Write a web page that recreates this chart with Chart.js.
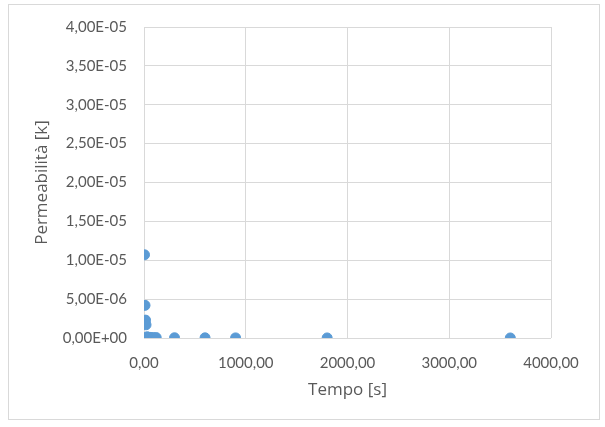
<!DOCTYPE html>
<html>
<head>
<meta charset="utf-8">
<script src="https://cdn.jsdelivr.net/npm/chart.js@4"></script>
<style>
  html, body { margin: 0; padding: 0; background: #fff; }
  #wrap { position: relative; width: 605px; height: 427px; }
  #frame { position: absolute; left: 8px; top: 4px; width: 592px; height: 416px; border: 1px solid #d9d9d9; box-sizing: border-box; pointer-events: none; }
  canvas { position: absolute; left: 0; top: 0; }
</style>
</head>
<body>
<div id="wrap">
  <canvas id="chart" width="605" height="427"></canvas>
  <div id="frame"></div>
</div>
<script>
// tempo [s] vs permeabilità [k]
const tempo = [5, 10, 15, 20, 30, 45, 60, 90, 120, 300, 600, 900, 1800, 3600];
const permeabilita = [1.07e-5, 4.2e-6, 2.3e-6, 1.7e-6, 1.5e-7, 1.0e-7, 8e-8, 6e-8, 5e-8, 3e-8, 2e-8, 1.5e-8, 1e-8, 5e-9];

const xMax = 4000, xStep = 1000;
const yMax = 4e-5, yStep = 5e-6;

const points = tempo.map((t, i) => ({ x: t, y: permeabilita[i] }));

const tickFont = 'Lato, "Open Sans", sans-serif';
const titleFont = '"Open Sans", Lato, sans-serif';
const grey = '#595959';

function fmtExp(v) {
  // 4.00e-5 -> 4,00E-05
  let s = Number(v).toExponential(2);
  let [m, e] = s.split('e');
  let sign = e[0] === '-' ? '-' : '+';
  let n = Math.abs(parseInt(e, 10));
  return m.replace('.', ',') + 'E' + sign + (n < 10 ? '0' + n : n);
}

new Chart(document.getElementById('chart'), {
  type: 'scatter',
  data: {
    datasets: [{
      data: points,
      backgroundColor: '#5b9bd5',
      borderColor: '#5b9bd5',
      pointRadius: 5,
      borderWidth: 1
    }]
  },
  options: {
    responsive: false,
    animation: false,
    layout: { padding: { left: 0, top: 27, right: 54, bottom: 0 } },
    plugins: { legend: { display: false }, tooltip: { enabled: false } },
    scales: {
      x: {
        type: 'linear',
        min: 0, max: xMax,
        grid: { color: '#d9d9d9', drawTicks: false },
        border: { display: false },
        ticks: {
          stepSize: xStep, padding: 16, color: grey,
          font: { family: tickFont, size: 15 },
          callback: v => v.toFixed(2).replace('.', ',')
        },
        title: {
          display: true, text: 'Tempo [s]', color: grey,
          font: { family: titleFont, size: 17 },
          padding: { top: 0, bottom: 27 }
        },
        afterFit: s => { s.height = 89; }
      },
      y: {
        min: 0, max: yMax,
        grid: { color: '#d9d9d9', drawTicks: false },
        border: { display: false },
        ticks: {
          stepSize: yStep, padding: 17, color: grey,
          font: { family: tickFont, size: 15 },
          callback: v => fmtExp(v)
        },
        title: {
          display: true, text: 'Permeabilità [k]', color: grey,
          font: { family: titleFont, size: 17 },
          padding: { top: 32, bottom: 0 }
        },
        afterFit: s => { s.width = 144; }
      }
    }
  }
});
</script>
</body>
</html>
